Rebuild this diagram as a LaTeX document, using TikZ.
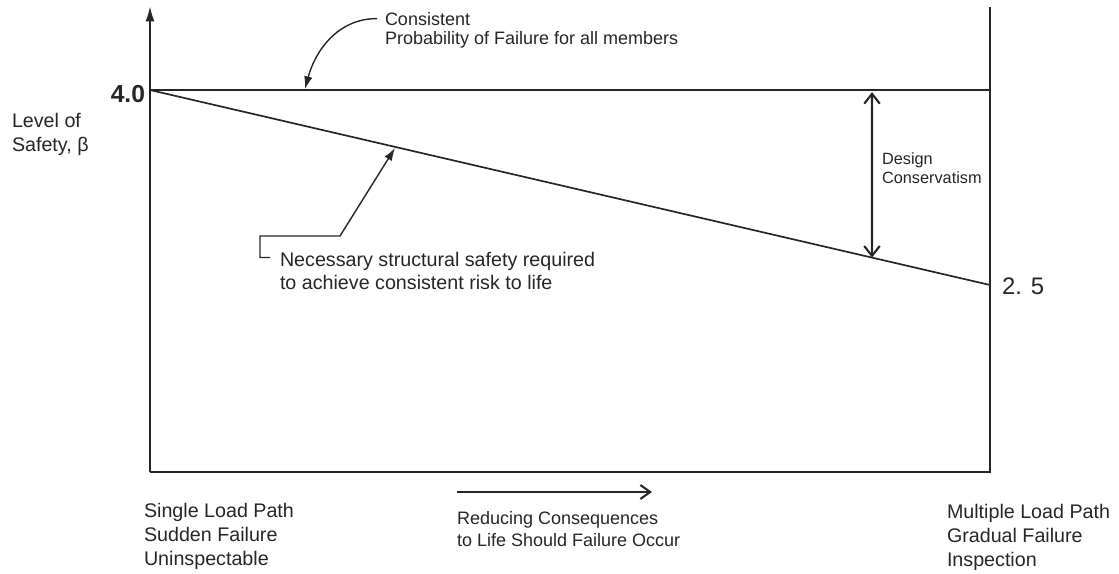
\documentclass[tikz,border=0pt]{standalone}
\usepackage{fontspec}
\setmainfont{Liberation Sans}
\usepackage{tikz}
\usetikzlibrary{positioning,arrows.meta,calc}
\definecolor{ink}{HTML}{262626}

\begin{document}
\begin{tikzpicture}[
  x=0.025cm, y=-0.025cm,
  every node/.style={text=ink, inner sep=0pt, outer sep=0pt},
  axis/.style={draw=ink, line width=1.5pt},
  level/.style={draw=ink, line width=1.2pt},
  lbl/.style={align=left, font=\fontsize{14}{17}\selectfont},
  note/.style={align=left, font=\fontsize{12.8}{15.5}\selectfont},
  small/.style={align=left, font=\fontsize{11.6}{13.5}\selectfont},
  val/.style={font=\fontsize{17}{20}\selectfont},
  ptr/.style={draw=ink, line width=1pt, -{Latex[length=9pt,width=6pt]}},
  dbl/.style={draw=ink, line width=1.5pt, {Straight Barb[length=7pt,width=11pt]}-{Straight Barb[length=7pt,width=11pt]}},
  arr/.style={draw=ink, line width=1.5pt, -{Straight Barb[length=7pt,width=10pt]}}
]
\useasboundingbox (0,0) rectangle (1119,573);

% Frame points
\coordinate (O) at (150,472);
\coordinate (ytop) at (150,6);
\coordinate (xend) at (990,472);
\coordinate (rtop) at (990,7);
\coordinate (b4) at (150,90);
\coordinate (top4) at (990,90);
\coordinate (b25) at (990,285);

% Axes
\draw[axis, -{Latex[length=11pt,width=6.5pt]}] (O) -- (ytop);
\draw[axis] (rtop) -- (xend) -- (O);

% Safety levels
\draw[level] (b4) -- (top4);
\draw[level] (b4) -- (b25);

% Values and axis label
\node[val, font=\bfseries\fontsize{17.5}{20}\selectfont, anchor=east] (v4) at (145,94) {4.0};
\node[val, anchor=west] (v25) at (1002,286) {2. 5};
\node[lbl, anchor=west] (ylab) at (12,134) {Level of\\Safety, β};

% Top note
\node[note, anchor=base west] (cons) at (385,25) {Consistent};
\node[note, anchor=base west] (prob) at (385,44) {Probability of Failure for all members};
\coordinate (consTip) at (305,89);
\draw[ptr] (cons.west) ++(-8,0) to[out=180, in=75] (consTip);

% Lower line note
\node[note, font=\fontsize{14}{16}\selectfont, anchor=west] (nec) at (280,271) {Necessary structural safety required\\to achieve consistent risk to life};
\coordinate (necKnee) at (340,236);
\coordinate (necTip) at (395,148);
\draw[ptr] (nec.north west) ++(-10,5) -- ++(-10,0) |- (necKnee) -- (necTip);

% Design conservatism
\coordinate (dcTop) at (872,90);
\coordinate (dcBot) at ($(b4)!0.8595!(b25)$);
\draw[dbl, shorten <=1.5pt] (dcTop) -- (dcBot);
\node[small, anchor=west] (dc) at (882,168) {Design\\Conservatism};

% Bottom labels
\node[lbl, anchor=west] (single) at (144,536) {Single Load Path\\Sudden Failure\\Uninspectable};
\node[lbl, anchor=west] (multi) at (947,537) {Multiple Load Path\\Gradual Failure\\Inspection};
\node[note, anchor=west] (red) at (457,529) {Reducing Consequences\\to Life Should Failure Occur};
\coordinate (redFrom) at (457,492);
\coordinate (redTo) at (652,492);
\draw[arr] (redFrom) -- (redTo);
\end{tikzpicture}
\end{document}
